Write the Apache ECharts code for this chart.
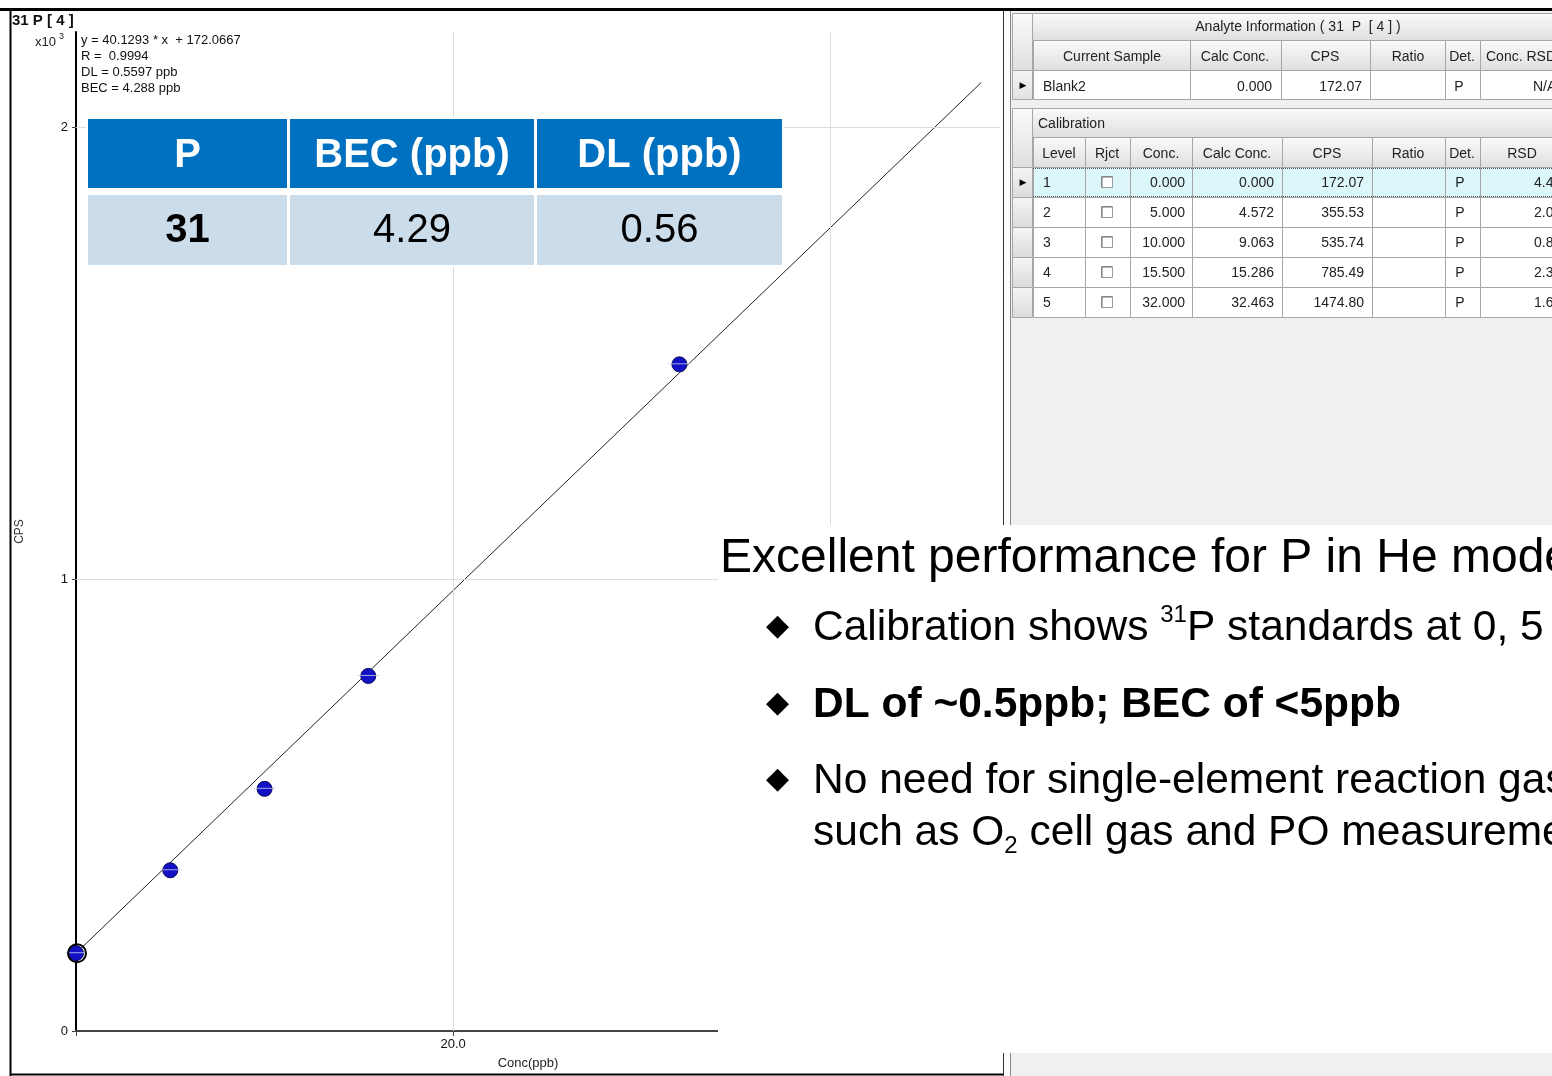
<!DOCTYPE html>
<html>
<head>
<meta charset="utf-8">
<script src="https://cdn.jsdelivr.net/npm/echarts@6/dist/echarts.min.js"></script>
<style>
html,body{margin:0;padding:0;background:#fff;}
#main{width:1552px;height:1076px;}
</style>
</head>
<body>
<div id="main"></div>
<script>
// ---------- data ----------
const concs = [0, 5, 10, 15.5, 32];
const cpsValues = [172.07, 355.53, 535.74, 785.49, 1474.80];
const fitLine = [[0, 172.07], [48, 2098]];
const yTickValues = [0, 1000, 2000];
const xTickValues = [0, 20, 40];
const xLabelValues = [20, 40];
const gridX = [20, 40];
const gridY = [1000, 2000];

const chartTitle = '31 P [ 4 ]';
const eqLines = ['y = 40.1293 * x  + 172.0667', 'R =  0.9994', 'DL = 0.5597 ppb', 'BEC = 4.288 ppb'];

const becHeaders = ['P', 'BEC (ppb)', 'DL (ppb)'];
const becValues = ['31', '4.29', '0.56'];

const analyteTitle = 'Analyte Information ( 31  P  [ 4 ] )';
const analyteCols = ['Current Sample', 'Calc Conc.', 'CPS', 'Ratio', 'Det.', 'Conc. RSD'];
const analyteRow = ['Blank2', '0.000', '172.07', '', 'P', 'N/A'];

const calCols = ['Level', 'Rjct', 'Conc.', 'Calc Conc.', 'CPS', 'Ratio', 'Det.', 'RSD'];
const calLevels = ['1', '2', '3', '4', '5'];
const calConc = ['0.000', '5.000', '10.000', '15.500', '32.000'];
const calCalc = ['0.000', '4.572', '9.063', '15.286', '32.463'];
const calCps = ['172.07', '355.53', '535.74', '785.49', '1474.80'];
const calDet = ['P', 'P', 'P', 'P', 'P'];
const calRsd = ['4.4', '2.0', '0.8', '2.3', '1.6'];

const headline = 'Excellent performance for P in He mode';
const bullet1a = 'Calibration shows ', bullet1sup = '31', bullet1b = 'P standards at 0, 5';
const bullet2 = 'DL of ~0.5ppb; BEC of <5ppb';
const bullet3 = 'No need for single-element reaction gas';
const bullet4a = 'such as O', bullet4sub = '2', bullet4b = ' cell gas and PO measurement';

// ---------- helpers ----------
const FF = '"Liberation Sans", Arial, sans-serif';
const els = [];
const mctx = document.createElement('canvas').getContext('2d');
function tw(s, font) { mctx.font = font; return mctx.measureText(s).width; }
function grad(a, b) {
  return new echarts.graphic.LinearGradient(0, 0, 0, 1, [{offset: 0, color: a}, {offset: 1, color: b}]);
}
function R(x, y, w, h, fill, stroke, lw, z) {
  els.push({type: 'rect', silent: true, z: z || 100, shape: {x: x, y: y, width: w, height: h},
    style: {fill: fill, stroke: stroke || null, lineWidth: lw || 1}});
}
function L(x1, y1, x2, y2, stroke, lw, dash, z) {
  els.push({type: 'line', silent: true, z: z || 100, shape: {x1: x1, y1: y1, x2: x2, y2: y2},
    style: {stroke: stroke, lineWidth: lw || 1, lineDash: dash || null}});
}
function T(x, y, text, font, fill, align, z) {
  els.push({type: 'text', silent: true, z: z || 102, x: x, y: y,
    style: {text: text, font: font, fill: fill || '#000', align: align || 'left', verticalAlign: 'middle'}});
}

// ---------- panel frame ----------
R(0, 8, 1552, 3, '#000', null, 1, 98);
L(10.5, 10, 10.5, 1076, '#000', 2, null, 98);
L(10, 1074.5, 1003, 1074.5, '#000', 2, null, 98);

// chart header texts
T(12, 21, chartTitle, 'bold 15px ' + FF, '#111');
T(35, 42, 'x10', '13px ' + FF, '#222');
T(59, 37, '3', '9px ' + FF, '#222');
eqLines.forEach(function (s, i) { T(81, 40 + i * 16, s, '13px ' + FF, '#111'); });

// ---------- BEC table ----------
R(86, 117, 698, 150, '#fff');
const becX = [[88, 199], [290, 244], [537, 245]];
becX.forEach(function (c, i) {
  R(c[0], 119, c[1], 69, '#0070C0');
  R(c[0], 195, c[1], 70, '#CBDCEA');
  T(c[0] + c[1] / 2, 156, becHeaders[i], 'bold 40px ' + FF, '#fff', 'center');
  T(c[0] + c[1] / 2, 231, becValues[i], (i === 0 ? 'bold ' : '') + '40px ' + FF, '#000', 'center');
});

// ---------- right data panel ----------
R(1011, 11, 541, 1065, '#f0f0f0', null, 1, 99);
R(1004, 11, 6, 1065, '#fbfbfb', null, 1, 99);
L(1003.5, 11, 1003.5, 1076, '#333', 1, null, 99);
L(1010.5, 11, 1010.5, 1076, '#888', 1, null, 99);
const TF = '14px ' + FF;
const BORDER = '#a6a6a6';
const hdrG = function () { return grad('#fbfbfb', '#dedede'); };

// analyte info
R(1012.5, 13.5, 20, 57, hdrG(), BORDER);
R(1012.5, 70.5, 20, 29, grad('#f4f4f4', '#e2e2e2'), BORDER);
T(1023, 86, '\u25B6', '9px "DejaVu Sans", sans-serif', '#000', 'center');
R(1032.5, 13.5, 540, 27, hdrG(), BORDER);
T(1298, 27, analyteTitle, TF, '#222', 'center');
const aB = [1033, 1190, 1281, 1370, 1445, 1480, 1600];
for (let i = 0; i < 6; i++) {
  R(aB[i] + 0.5, 40.5, aB[i + 1] - aB[i], 30, hdrG(), BORDER);
  R(aB[i] + 0.5, 70.5, aB[i + 1] - aB[i], 29, '#fff', BORDER);
}
const aHeadX = [1112, 1235, 1325, 1408, 1462, 1486];
analyteCols.forEach(function (s, i) { T(aHeadX[i], 57, s, TF, '#222', i === 5 ? 'left' : 'center'); });
T(1043, 87, analyteRow[0], TF, '#222', 'left');
T(1272, 87, analyteRow[1], TF, '#222', 'right');
T(1362, 87, analyteRow[2], TF, '#222', 'right');
T(1459, 87, analyteRow[4], TF, '#222', 'center');
T(1533, 87, analyteRow[5], TF, '#222', 'left');

// calibration
R(1012.5, 108.5, 20, 59, hdrG(), BORDER);
R(1032.5, 108.5, 540, 29, hdrG(), BORDER);
T(1038, 124, 'Calibration', TF, '#222', 'left');
const cB = [1033, 1085, 1130, 1192, 1282, 1372, 1445, 1480, 1600];
const cHeadX = [1059, 1107, 1161, 1237, 1327, 1408, 1462, 1522];
for (let i = 0; i < 8; i++) {
  R(cB[i] + 0.5, 137.5, cB[i + 1] - cB[i], 30, hdrG(), BORDER);
  T(cHeadX[i], 154, calCols[i], TF, '#222', 'center');
}
calLevels.forEach(function (lv, r) {
  const y = 167.5 + r * 30;
  const bg = r === 0 ? '#dcf7fa' : '#fff';
  R(1012.5, y, 20, 30, grad('#f6f6f6', '#dadada'), BORDER);
  for (let i = 0; i < 8; i++) {
    R(cB[i] + 0.5, y, cB[i + 1] - cB[i], 30, bg, BORDER);
  }
  if (r === 0) {
    L(1033, y + 1, 1552, y + 1, '#555', 1, [1, 1], 101);
    L(1033, y + 29, 1552, y + 29, '#555', 1, [1, 1], 101);
    T(1023, y + 15, '\u25B6', '9px "DejaVu Sans", sans-serif', '#000', 'center');
  }
  const cy = y + 16;
  T(1043, cy, lv, TF, '#222', 'left');
  R(1101.5, cy - 7, 11, 11, '#fff', '#9a9a9a', 1, 101);
  L(1102, cy - 6.5, 1112, cy - 6.5, '#707070', 1, null, 101);
  L(1102, cy - 6.5, 1102, cy + 4, '#707070', 1, null, 101);
  T(1185, cy, calConc[r], TF, '#222', 'right');
  T(1274, cy, calCalc[r], TF, '#222', 'right');
  T(1364, cy, calCps[r], TF, '#222', 'right');
  T(1460, cy, calDet[r], TF, '#222', 'center');
  T(1534, cy, calRsd[r], TF, '#222', 'left');
});

// ---------- text box overlay ----------
R(718, 525, 834, 528, '#fff', null, 1, 103);
const HF = '48px ' + FF, BF = '42.5px ' + FF, BFB = 'bold 42.5px ' + FF, SF = '24px ' + FF;
T(720, 559, headline, HF, '#000', 'left', 104);
[627, 704, 780].forEach(function (y) { T(766, y, '\u25C6', '30px "DejaVu Sans", sans-serif', '#000', 'left', 104); });
let x1 = 813;
T(x1, 628, bullet1a, BF, '#000', 'left', 104);
x1 += tw(bullet1a, BF);
T(x1, 615, bullet1sup, SF, '#000', 'left', 104);
x1 += tw(bullet1sup, SF);
T(x1, 628, bullet1b, BF, '#000', 'left', 104);
T(813, 705, bullet2, BFB, '#000', 'left', 104);
T(813, 781, bullet3, BF, '#000', 'left', 104);
let x4 = 813;
T(x4, 833, bullet4a, BF, '#000', 'left', 104);
x4 += tw(bullet4a, BF);
T(x4, 846, bullet4sub, SF, '#000', 'left', 104);
x4 += tw(bullet4sub, SF);
T(x4, 833, bullet4b, BF, '#000', 'left', 104);

// ---------- chart ----------
const chart = echarts.init(document.getElementById('main'), null, {renderer: 'canvas'});
const points = concs.map(function (c, i) { return [c, cpsValues[i]]; });

const option = {
  animation: false,
  backgroundColor: '#fff',
  grid: {left: 76, right: 552, top: 32, bottom: 45, containLabel: false},
  xAxis: {
    type: 'value', min: 0, max: 49, interval: 20,
    axisLine: {show: true, onZero: false, lineStyle: {color: '#444', width: 2}},
    axisTick: {show: true, length: 5, customValues: xTickValues, lineStyle: {color: '#444'}},
    axisLabel: {customValues: xLabelValues, margin: 7, color: '#111', fontSize: 13, fontFamily: 'Liberation Sans',
      formatter: function (v) { return (v === 20 || v === 40) ? v.toFixed(1) : ''; }},
    splitLine: {show: false},
    name: 'Conc(ppb)', nameLocation: 'middle', nameGap: 26,
    nameTextStyle: {color: '#222', fontSize: 13, fontFamily: 'Liberation Sans', padding: [0, 20, 0, 0]}
  },
  yAxis: {
    type: 'value', min: 0, max: 2210, interval: 1000,
    axisLine: {show: true, onZero: false, lineStyle: {color: '#000', width: 2}},
    axisTick: {show: true, length: 4, customValues: yTickValues, lineStyle: {color: '#444'}},
    axisLabel: {customValues: yTickValues, margin: 8, color: '#111', fontSize: 13, fontFamily: 'Liberation Sans',
      formatter: function (v) { return v % 1000 === 0 ? String(v / 1000) : ''; }},
    splitLine: {show: false},
    name: 'CPS', nameLocation: 'middle', nameGap: 50, nameRotate: 90,
    nameTextStyle: {color: '#333', fontSize: 12, fontFamily: 'Liberation Sans'}
  },
  series: [
    {
      type: 'line', data: [], z: 1, silent: true,
      markLine: {
        silent: true, symbol: 'none', animation: false, label: {show: false},
        lineStyle: {color: '#dcdcdc', type: 'solid', width: 1},
        data: gridY.map(function (v) { return {yAxis: v}; }).concat(gridX.map(function (v) { return {xAxis: v}; }))
      }
    },
    {
      type: 'line', data: fitLine, showSymbol: false, symbol: 'none', z: 3, silent: true,
      lineStyle: {color: '#222', width: 1}
    },
    {
      type: 'custom', z: 5, clip: false, silent: true,
      data: points,
      renderItem: function (params, api) {
        const p = api.coord([api.value(0), api.value(1)]);
        const ch = [
          {type: 'circle', shape: {cx: p[0], cy: p[1], r: 7.5}, style: {fill: '#1212c4', stroke: '#08085e', lineWidth: 1}},
          {type: 'line', shape: {x1: p[0] - 11, y1: p[1] - 0.5, x2: p[0] + 11, y2: p[1] - 0.5}, style: {stroke: '#c7cdee', lineWidth: 1, opacity: 0.8}}
        ];
        if (params.dataIndex === 0) {
          ch.push({type: 'circle', shape: {cx: p[0] + 1, cy: p[1], r: 9}, style: {fill: null, stroke: '#000', lineWidth: 2}});
        }
        return {type: 'group', children: ch};
      }
    }
  ],
  graphic: {elements: els}
};
chart.setOption(option);
</script>
</body>
</html>
